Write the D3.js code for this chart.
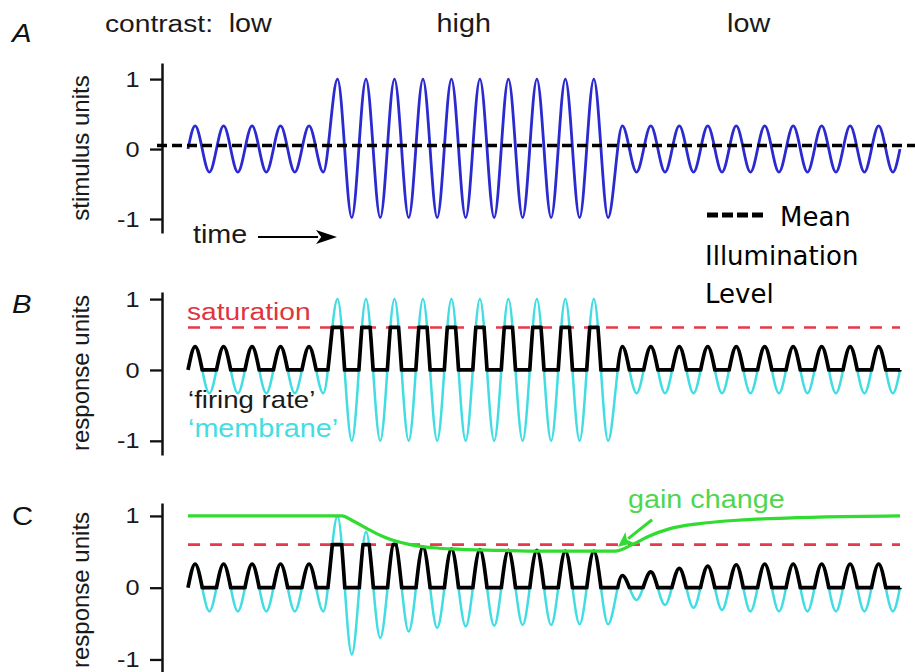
<!DOCTYPE html>
<html>
<head>
<meta charset="utf-8">
<script src="https://cdn.jsdelivr.net/npm/d3@7"></script>
<style>
  body { margin: 0; background: #fff; }
  svg { display: block; }
</style>
</head>
<body>
<svg id="chart" width="915" height="672"></svg>
<script>
// ---------------- DATA ----------------
const contrastLevels = ["low", "high", "low"];
const segmentBounds = [0, 5, 15, 25];           // time, in stimulus cycles
const tickValues = [-1, 0, 1];
const tickLabels = ["-1", "0", "1"];
const meanLevel = 0.05;                          // mean illumination level
const saturationLevel = 0.6;

// stimulus extrema, one value per half cycle (peak, trough, peak, ...)
const stimulusExtrema = [
  0.33, -0.33, 0.33, -0.33, 0.33, -0.33, 0.33, -0.33, 0.33, -0.33,
  1.0, -0.98, 1.0, -0.98, 1.0, -0.98, 1.0, -0.98, 1.0, -0.98,
  1.0, -0.98, 1.0, -0.98, 1.0, -0.98, 1.0, -0.98, 1.0, -0.98,
  0.33, -0.33, 0.33, -0.33, 0.33, -0.33, 0.33, -0.33, 0.33, -0.33,
  0.33, -0.33, 0.33, -0.33, 0.33, -0.33, 0.33, -0.33, 0.33, -0.33
];
// panel B membrane follows the stimulus
const membraneBExtrema = [
  0.33, -0.33, 0.33, -0.33, 0.33, -0.33, 0.33, -0.33, 0.33, -0.33,
  1.0, -1.0, 1.0, -1.0, 1.0, -1.0, 1.0, -1.0, 1.0, -1.0,
  1.0, -1.0, 1.0, -1.0, 1.0, -1.0, 1.0, -1.0, 1.0, -1.0,
  0.33, -0.33, 0.33, -0.33, 0.33, -0.33, 0.33, -0.33, 0.33, -0.33,
  0.33, -0.33, 0.33, -0.33, 0.33, -0.33, 0.33, -0.33, 0.33, -0.33
];
// panel C membrane, scaled by the adapting gain
const membraneCExtrema = [
  0.33, -0.33, 0.33, -0.33, 0.33, -0.33, 0.33, -0.33, 0.33, -0.33,
  1.0, -0.93, 0.78, -0.70, 0.64, -0.61, 0.57, -0.56, 0.54, -0.54,
  0.53, -0.53, 0.52, -0.52, 0.52, -0.52, 0.51, -0.51, 0.51, -0.51,
  0.17, -0.17, 0.22, -0.24, 0.27, -0.28, 0.30, -0.31, 0.32, -0.33,
  0.33, -0.33, 0.33, -0.33, 0.33, -0.33, 0.33, -0.33, 0.33, -0.33
];
// gain (green) curve
const gainTimes  = [0, 5.4, 5.8, 6.3, 6.8, 7.2, 7.8, 8.5, 9.2, 10.9, 12.5, 15.0, 15.6, 16.2, 16.9, 17.9, 19.3, 21.0, 23.0, 25];
const gainValues = [1, 1.0, 0.93, 0.82, 0.72, 0.66, 0.60, 0.56, 0.54, 0.52, 0.51, 0.51, 0.60, 0.72, 0.82, 0.89, 0.94, 0.97, 0.99, 1.0];

const panelLetters = ["A", "B", "C"];
const axisTitles = ["stimulus units", "response units", "response units"];
const legendLines = ["Mean", "Illumination", "Level"];

// ---------------- LAYOUT ----------------
const HELV = "'Liberation Sans', Arial, Helvetica, sans-serif";
const VERD = "'DejaVu Sans', Verdana, sans-serif";
const STRETCH = 1.15;
const INK = "#1a1a1a";
const COL = { blue: "#2a2ad0", cyan: "#42dde2", red: "#e8394a", green: "#2fdc2f",
              greenText: "#4fd64f", redText: "#e0343f", cyanText: "#44dde2" };

const svg = d3.select("#chart");
const defs = svg.append("defs");
const x = d3.scaleLinear()
  .domain([segmentBounds[0], segmentBounds[segmentBounds.length - 1]])
  .range([188, 900]);
const extremaTimes = stimulusExtrema.map((_, i) => 0.25 + 0.5 * i);
const t0 = segmentBounds[0], tEnd = segmentBounds[segmentBounds.length - 1];
const toPoints = ext => [[t0, 0], ...ext.map((v, i) => [extremaTimes[i], v]), [tEnd, 0]];

const panels = [
  { domain: [-1.2, 1.23], range: [233, 63], letterY: 42, italic: true, titleY: 148 },
  { domain: [-1.2, 1.1],  range: [455, 292], letterY: 313, italic: true, titleY: 373 },
  { domain: [-1.3, 1.18], range: [681, 503], letterY: 525, italic: false, titleY: 590 }
].map(p => ({ ...p, y: d3.scaleLinear().domain(p.domain).range(p.range) }));

function sText(g, tx, ty, str, size, fill, opts = {}) {
  return g.append("text")
    .attr("transform", `translate(${tx},${ty}) scale(${STRETCH},1)`)
    .attr("font-family", HELV).attr("font-size", size)
    .attr("font-style", opts.italic ? "italic" : "normal")
    .attr("text-anchor", opts.anchor || "start")
    .attr("fill", fill).text(str);
}

function arrow(g, tail, tip, headLen, headHalf, color, width) {
  const dx = tip[0] - tail[0], dy = tip[1] - tail[1];
  const L = Math.hypot(dx, dy), ux = dx / L, uy = dy / L;
  const bx = tip[0] - ux * headLen, by = tip[1] - uy * headLen;
  g.append("line").attr("x1", tail[0]).attr("y1", tail[1]).attr("x2", bx + ux * 2).attr("y2", by + uy * 2)
    .attr("stroke", color).attr("stroke-width", width);
  g.append("path")
    .attr("d", `M${tip[0]},${tip[1]}L${bx - uy * headHalf},${by + ux * headHalf}L${bx + ux * headLen * 0.25},${by + uy * headLen * 0.25}L${bx + uy * headHalf},${by - ux * headHalf}Z`)
    .attr("fill", color);
}

const waveLine = y => d3.line().x(d => x(d[0])).y(d => y(d[1])).curve(d3.curveMonotoneX);

// firing rate = membrane rectified at 0 and saturated at saturationLevel (done by clipping)
function drawFiring(g, pts, y, id) {
  const band = defs.append("clipPath").attr("id", id + "-band");
  band.append("rect").attr("x", 0).attr("width", 915)
    .attr("y", y(saturationLevel) - 1.6).attr("height", y(0) - y(saturationLevel) + 3.2);
  const below = defs.append("clipPath").attr("id", id + "-neg");
  below.append("path").attr("d", d3.area().x(d => x(d[0])).y0(0).y1(d => y(d[1])).curve(d3.curveMonotoneX)(pts));
  const above = defs.append("clipPath").attr("id", id + "-sat");
  above.append("path").attr("d", d3.area().x(d => x(d[0])).y0(672).y1(d => y(d[1])).curve(d3.curveMonotoneX)(pts));
  const st = sel => sel.attr("fill", "none").attr("stroke", "#000").attr("stroke-width", 3.7).attr("stroke-linejoin", "round");
  g.append("path").attr("d", waveLine(y)(pts)).attr("clip-path", `url(#${id}-band)`).call(st);
  g.append("line").attr("x1", x(t0)).attr("x2", x(tEnd)).attr("y1", y(0)).attr("y2", y(0))
    .attr("clip-path", `url(#${id}-neg)`).call(st);
  g.append("line").attr("x1", x(t0)).attr("x2", x(tEnd)).attr("y1", y(saturationLevel)).attr("y2", y(saturationLevel))
    .attr("clip-path", `url(#${id}-sat)`).call(st);
}

function satLine(g, y) {
  g.append("line").attr("x1", x(t0)).attr("x2", x(tEnd))
    .attr("y1", y(saturationLevel)).attr("y2", y(saturationLevel))
    .attr("stroke", COL.red).attr("stroke-width", 2.6).attr("stroke-dasharray", "12,10");
}

// ---------------- AXES, LETTERS, TITLES ----------------
panels.forEach((p, i) => {
  const g = svg.append("g");
  const ax = g.append("g").attr("transform", "translate(162,0)")
    .call(d3.axisLeft(p.y).tickValues(tickValues)
      .tickFormat(d => tickLabels[tickValues.indexOf(d)])
      .tickSize(12).tickSizeOuter(0).tickPadding(7.5));
  ax.select(".domain").attr("stroke", "#111").attr("stroke-width", 2.5);
  ax.selectAll(".tick line").attr("stroke", "#111").attr("stroke-width", 2.3);
  ax.selectAll(".tick text").attr("font-family", HELV).attr("font-size", 22).attr("fill", INK)
    .attr("transform", `scale(${STRETCH},1)`);
  sText(g, 12, p.letterY, panelLetters[i], 25.5, "#111", { italic: p.italic });
  g.append("text").attr("transform", `translate(89,${p.titleY}) rotate(-90)`)
    .attr("font-family", HELV).attr("font-size", 24).attr("fill", INK)
    .attr("text-anchor", "middle").text(axisTitles[i]);
});

// ---------------- PANEL A ----------------
{
  const y = panels[0].y;
  const g = svg.append("g");
  sText(g, 105, 32, "contrast:", 24.5, INK);
  contrastLevels.forEach((lab, i) => {
    const mid = (segmentBounds[i] + segmentBounds[i + 1]) / 2;
    sText(g, x(mid) - 9, 32, lab, 25, INK, { anchor: "middle" });
  });
  g.append("path").attr("d", waveLine(y)(toPoints(stimulusExtrema)))
    .attr("fill", "none").attr("stroke", COL.blue).attr("stroke-width", 2.8);
  g.append("line").attr("x1", 157).attr("x2", 915).attr("y1", y(meanLevel)).attr("y2", y(meanLevel))
    .attr("stroke", "#000").attr("stroke-width", 3.6).attr("stroke-dasharray", "10,5");
  sText(g, 193, 243, "time", 25, INK);
  arrow(g, [258, 237], [337, 237], 21, 7, "#000", 2.2);
  // legend
  g.append("line").attr("x1", 707).attr("x2", 763).attr("y1", 215).attr("y2", 215)
    .attr("stroke", "#000").attr("stroke-width", 4.8).attr("stroke-dasharray", "11,4");
  const ly = [226, 265, 303], lx = [780, 705, 705];
  legendLines.forEach((s, i) => {
    g.append("text").attr("x", lx[i]).attr("y", ly[i]).attr("font-family", VERD)
      .attr("font-size", 26).attr("fill", "#000").text(s);
  });
}

// ---------------- PANEL B ----------------
{
  const y = panels[1].y;
  const g = svg.append("g");
  const pts = toPoints(membraneBExtrema);
  g.append("path").attr("d", waveLine(y)(pts))
    .attr("fill", "none").attr("stroke", COL.cyan).attr("stroke-width", 2.5);
  satLine(g, y);
  drawFiring(g, pts, y, "fb");
  sText(g, 187, 320, "saturation", 24.5, COL.redText);
  sText(g, 188, 408, "\u2018firing rate\u2019", 24, INK);
  sText(g, 188, 437, "\u2018membrane\u2019", 25, COL.cyanText);
}

// ---------------- PANEL C ----------------
{
  const y = panels[2].y;
  const g = svg.append("g");
  const pts = toPoints(membraneCExtrema);
  g.append("path").attr("d", waveLine(y)(pts))
    .attr("fill", "none").attr("stroke", COL.cyan).attr("stroke-width", 2.5);
  satLine(g, y);
  drawFiring(g, pts, y, "fc");
  const gainPts = gainTimes.map((t, i) => [t, gainValues[i]]);
  g.append("path").attr("d", waveLine(y)(gainPts))
    .attr("fill", "none").attr("stroke", COL.green).attr("stroke-width", 3.2);
  sText(g, 628, 508, "gain change", 25, COL.greenText);
  const tip = [x(15.1), y(0.57)];
  arrow(g, [tip[0] + 34, tip[1] - 27], tip, 15, 7, COL.green, 3);
}
</script>
</body>
</html>
